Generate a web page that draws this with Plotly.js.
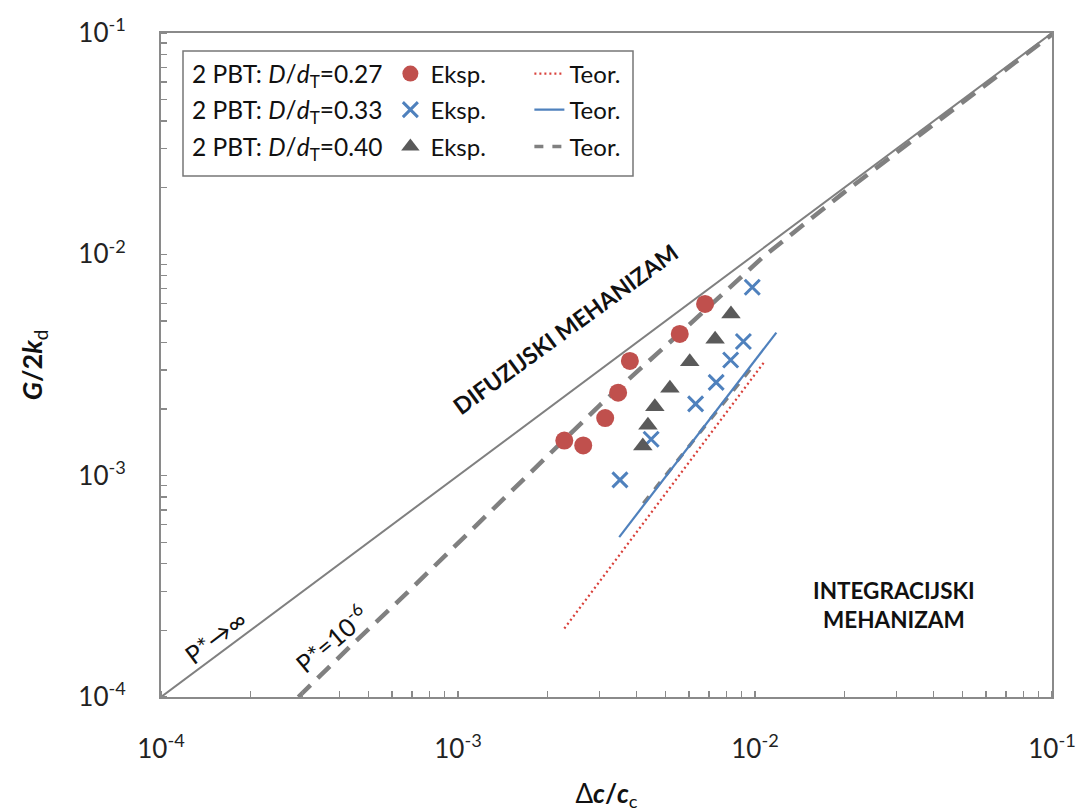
<!DOCTYPE html>
<html>
<head>
<meta charset="utf-8">
<script src="https://cdn.plot.ly/plotly-3.0.1.min.js"></script>
<style>html,body{margin:0;padding:0;background:#fff;}#chart{width:1076px;height:812px;}</style>
</head>
<body>
<div id="chart"></div>
<script>
// ---- data ----
const limitInfX = [1e-4, 1e-1];
const limitInfY = [1e-4, 1e-1];
const limitP6X = [2.90e-4, 4.33e-4, 6.53e-4, 1.04e-3, 1.75e-3, 3.01e-3, 5.74e-3, 1.067e-2, 1.98e-2, 3.79e-2, 1e-1];
const limitP6Y = [1.00e-4, 1.69e-4, 2.84e-4, 5.23e-4, 1.03e-3, 2.09e-3, 4.55e-3, 9.76e-3, 1.89e-2, 3.65e-2, 9.85e-2];

const exp027X = [2.28e-3, 2.64e-3, 3.13e-3, 3.46e-3, 3.79e-3, 5.58e-3, 6.79e-3];
const exp027Y = [1.44e-3, 1.37e-3, 1.82e-3, 2.37e-3, 3.30e-3, 4.37e-3, 5.97e-3];
const exp033X = [3.51e-3, 4.47e-3, 6.31e-3, 7.40e-3, 8.28e-3, 9.14e-3, 9.79e-3];
const exp033Y = [9.57e-4, 1.46e-3, 2.11e-3, 2.64e-3, 3.33e-3, 4.04e-3, 7.10e-3];
const exp040X = [4.19e-3, 4.36e-3, 4.60e-3, 5.17e-3, 6.03e-3, 7.34e-3, 8.30e-3];
const exp040Y = [1.36e-3, 1.69e-3, 2.05e-3, 2.48e-3, 3.27e-3, 4.13e-3, 5.38e-3];

const teor027X = [2.28e-3, 1.07e-2];
const teor027Y = [2.04e-4, 3.24e-3];
const teor033X = [3.49e-3, 1.18e-2];
const teor033Y = [5.28e-4, 4.43e-3];
const teor040X = [4.21e-3, 9.62e-3];
const teor040Y = [7.50e-4, 3.01e-3];

const tickVals = [1e-4, 1e-3, 1e-2, 1e-1];
const tickText = ['10<sup>-4</sup>', '10<sup>-3</sup>', '10<sup>-2</sup>', '10<sup>-1</sup>'];
const rowLabels = ['2 PBT: <i>D</i>/<i>d</i><sub>T</sub>=0.27', '2 PBT: <i>D</i>/<i>d</i><sub>T</sub>=0.33', '2 PBT: <i>D</i>/<i>d</i><sub>T</sub>=0.40'];
const expName = 'Eksp.';
const teorName = 'Teor.';

// ---- style ----
const FONT = 'Lato, "Open Sans", sans-serif';
const RED = '#C0504D', BLUE = '#4F81BD', DARK = '#5A5A5A', GREY = '#808080';

const traces = [
  {x: limitInfX, y: limitInfY, mode: 'lines', line: {color: GREY, width: 2}, showlegend: false, hoverinfo: 'skip'},
  {x: limitP6X, y: limitP6Y, mode: 'lines', line: {color: GREY, width: 4.5, dash: '17px,10px'}, showlegend: false, hoverinfo: 'skip'},
  {x: teor040X, y: teor040Y, mode: 'lines', name: teorName, legend: 'legend3', legendrank: 2,
   line: {color: GREY, width: 3.5, dash: '9px,9px'}},
  {x: teor033X, y: teor033Y, mode: 'lines', name: teorName, legend: 'legend2', legendrank: 2,
   line: {color: BLUE, width: 2.2}},
  {x: teor027X, y: teor027Y, mode: 'lines', name: teorName, legend: 'legend', legendrank: 2,
   line: {color: '#D9423C', width: 2.2, dash: '2px,3px'}},
  {x: exp027X, y: exp027Y, mode: 'markers', name: expName, legend: 'legend', legendrank: 1,
   marker: {symbol: 'circle', size: 18, color: RED}},
  {x: exp033X, y: exp033Y, mode: 'markers', name: expName, legend: 'legend2', legendrank: 1,
   marker: {symbol: 'x-thin', size: 15, color: BLUE, line: {color: BLUE, width: 3}}},
  {x: exp040X, y: exp040Y, mode: 'markers', name: expName, legend: 'legend3', legendrank: 1,
   marker: {symbol: 'triangle-up', size: 17, color: DARK}}
];

const L = 161, T = 33, W = 891, H = 664;
const px = v => (v - L) / W;
const py = v => (T + H - v) / H;

function leg(rowY, label) {
  return {
    orientation: 'h', x: px(190), xanchor: 'left', y: py(rowY), yanchor: 'middle',
    bgcolor: 'rgba(0,0,0,0)', borderwidth: 0,
    font: {family: FONT, size: 24, color: '#111'},
    title: {text: label, side: 'left', font: {family: FONT, size: 24.5, color: '#111'}},
    entrywidth: 94, entrywidthmode: 'pixels', traceorder: 'normal', itemclick: false, itemdoubleclick: false
  };
}

const axisCommon = {
  type: 'log', range: [-4, -1], tickmode: 'array', tickvals: tickVals, ticktext: tickText,
  ticks: '', showgrid: false, zeroline: false,
  showline: true, linecolor: '#8a8a8a', linewidth: 2, mirror: true,
  tickfont: {family: FONT, size: 26, color: '#222'},
  ticklabelstandoff: 28, ticklabeloverflow: 'allow',
  minor: {ticks: 'inside', ticklen: 6, tickwidth: 1.3, tickcolor: '#8a8a8a', dtick: 'D1', showgrid: false}
};

const layout = {
  width: 1076, height: 812,
  margin: {l: L, r: 1076 - L - W, t: T, b: 812 - T - H},
  paper_bgcolor: '#fff', plot_bgcolor: '#fff',
  font: {family: FONT, color: '#111'},
  showlegend: true,
  xaxis: Object.assign({}, axisCommon, {
    title: {text: 'Δ<b><i>c</i>/<i>c</i></b><sub>c</sub>', font: {family: FONT, size: 26, color: '#111'}, standoff: 26}
  }),
  yaxis: Object.assign({}, axisCommon, {
    title: {text: '<b><i>G</i>/2<i>k</i></b><sub>d</sub>', font: {family: FONT, size: 27, color: '#111'}, standoff: 28}
  }),
  legend: leg(74, rowLabels[0]),
  legend2: leg(110, rowLabels[1]),
  legend3: leg(147, rowLabels[2]),
  shapes: [
    {type: 'rect', xref: 'paper', yref: 'paper', x0: px(183), x1: px(633), y0: py(176), y1: py(51),
     line: {color: '#777', width: 1.5}, fillcolor: 'rgba(0,0,0,0)'}
  ],
  annotations: [
    {xref: 'paper', yref: 'paper', x: px(565), y: py(329), text: '<b>DIFUZIJSKI MEHANIZAM</b>', textangle: -36,
     showarrow: false, xanchor: 'center', yanchor: 'middle', font: {family: FONT, size: 23, color: '#111'}},
    {xref: 'paper', yref: 'paper', x: px(894), y: py(605), text: '<b>INTEGRACIJSKI<br>MEHANIZAM</b>',
     showarrow: false, xanchor: 'center', yanchor: 'middle', align: 'center', font: {family: FONT, size: 22.5, color: '#111'}},
    {xref: 'paper', yref: 'paper', x: px(215), y: py(637), text: 'P*→∞', textangle: -37,
     showarrow: false, xanchor: 'center', yanchor: 'middle', font: {family: FONT, size: 25, color: '#111'}},
    {xref: 'paper', yref: 'paper', x: px(331), y: py(638), text: 'P*=10<sup>-6</sup>', textangle: -40,
     showarrow: false, xanchor: 'center', yanchor: 'middle', font: {family: FONT, size: 25, color: '#111'}}
  ]
};

Plotly.newPlot('chart', traces, layout, {displayModeBar: false, staticPlot: true});
</script>
</body>
</html>
